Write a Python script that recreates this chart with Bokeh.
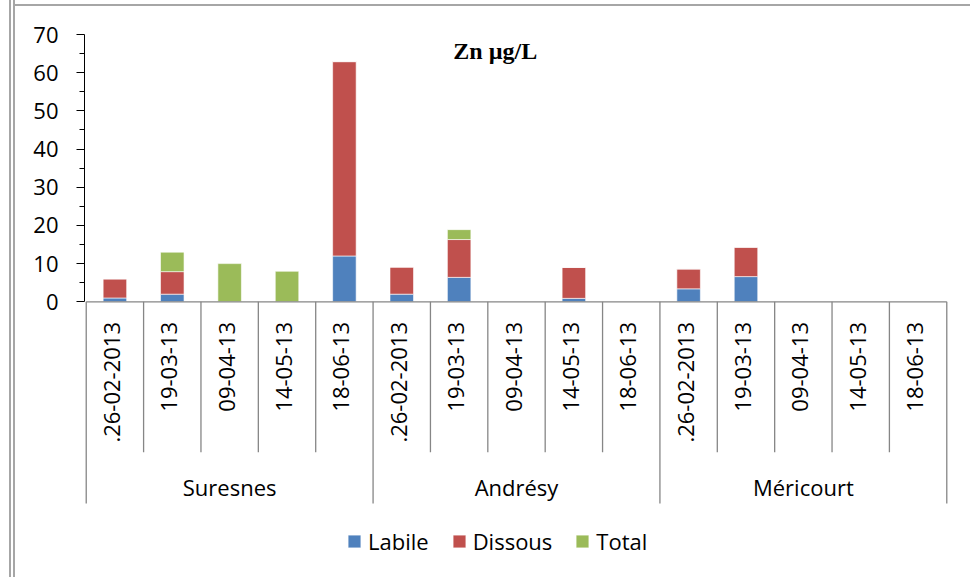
import math
from bokeh.plotting import figure
from bokeh.models import FactorRange, Range1d, FixedTicker, ColumnDataSource, Label
from bokeh.core.properties import value
from bokeh.embed import file_html
from bokeh.resources import INLINE

sites = ["Suresnes", "Andrésy", "Méricourt"]
dates = [".26-02-2013", "19-03-13", "09-04-13", "14-05-13", "18-06-13"]
series = ["Labile", "Dissous", "Total"]
labile = [1.0, 2.0, 0, 0, 12.0, 2.0, 6.4, 0, 0.9, 0, 3.4, 6.6, 0, 0, 0]
dissous = [5.0, 5.9, 0, 0, 50.9, 7.1, 9.9, 0, 8.1, 0, 5.2, 7.7, 0, 0, 0]
total = [0, 5.1, 10.0, 8.0, 0, 0, 2.6, 0, 0, 0, 0, 0, 0, 0, 0]
y_ticks = [0, 10, 20, 30, 40, 50, 60, 70]
colors = ["#4F81BD", "#C0504D", "#9BBB59"]
title = "Zn µg/L"

FONT = "Open Sans"
factors = [(s, d) for s in sites for d in dates]
n = len(factors)
per = len(dates)

source = ColumnDataSource(data=dict(x=factors, Labile=labile, Dissous=dissous, Total=total))

x_range = FactorRange(factors=factors, factor_padding=0, group_padding=0, subgroup_padding=0,
                      range_padding=0.03, range_padding_units="absolute")
y_range = Range1d(-72.2, y_ticks[-1])

frame_decor = ("linear-gradient(#a6a6a6,#a6a6a6) 9px 0/2px 100% no-repeat,"
               "linear-gradient(#a6a6a6,#a6a6a6) 13px 0/2px 100% no-repeat,"
               "linear-gradient(#a6a6a6,#a6a6a6) 14px 4px/100% 2px no-repeat, white")

p = figure(width=970, height=577, x_range=x_range, y_range=y_range,
           output_backend="svg", toolbar_location=None, x_axis_location=None,
           min_border_left=84, min_border_right=22, min_border_top=34, min_border_bottom=0,
           styles={"background": frame_decor})
p.outline_line_color = None
p.grid.visible = False
p.background_fill_color = "white"
p.border_fill_alpha = 0

p.vbar_stack(series, x="x", width=0.41, color=colors, source=source,
             line_color="white", line_width=1, line_alpha=0.6,
             legend_label=series)

# y axis
ax = p.yaxis[0]
ax.bounds = (y_ticks[0], y_ticks[-1])
ax.ticker = FixedTicker(ticks=y_ticks,
                        minor_ticks=[(a + b) / 2 for a, b in zip(y_ticks, y_ticks[1:])])
ax.axis_line_color = "black"
ax.major_tick_line_color = "black"
ax.minor_tick_line_color = "black"
ax.major_tick_in = 0
ax.major_tick_out = 8
ax.minor_tick_in = 0
ax.minor_tick_out = 5
ax.major_label_standoff = 18
ax.major_label_text_font = FONT
ax.major_label_text_font_size = "22px"
ax.major_label_text_color = "black"

# x axis line and category separators
grey = "#868686"
p.segment(x0=[0], y0=[0], x1=[n], y1=[0], line_color=grey, line_width=1.3)
bounds = list(range(n + 1))
sep_bottom = [-52.8 if b % per == 0 else -39.4 for b in bounds]
p.segment(x0=bounds, y0=[0] * len(bounds), x1=bounds, y1=sep_bottom,
          line_color=grey, line_width=1.3)

# date labels (rotated)
p.text(x=factors, y=[-5.3] * n, text=[d for s in sites for d in dates],
       angle=math.pi / 2, text_align="right", text_baseline="middle", x_offset=-3,
       text_font=value(FONT), text_font_size="22px", text_color="black")

# site labels
p.text(x=sites, y=[-48.6] * len(sites), text=sites, text_align="center",
       text_baseline="middle", text_font=value(FONT), text_font_size="22px",
       text_color="black")

# title
p.add_layout(Label(x=7.13, y=65.8, text=title, text_align="center",
                   text_baseline="alphabetic", text_font="Liberation Serif",
                   text_font_style="bold", text_font_size="24px", text_color="black"))

lg = p.legend[0]
lg.orientation = "horizontal"
lg.location = (262, 21)
lg.padding = 0
lg.margin = 0
lg.spacing = 22
lg.label_standoff = 6
lg.glyph_width = 16
lg.glyph_height = 16
lg.label_text_font = FONT
lg.label_text_font_size = "22px"
lg.label_text_color = "black"
lg.border_line_color = None
lg.background_fill_alpha = 0

open("out.html", "w").write(file_html(p, INLINE))
